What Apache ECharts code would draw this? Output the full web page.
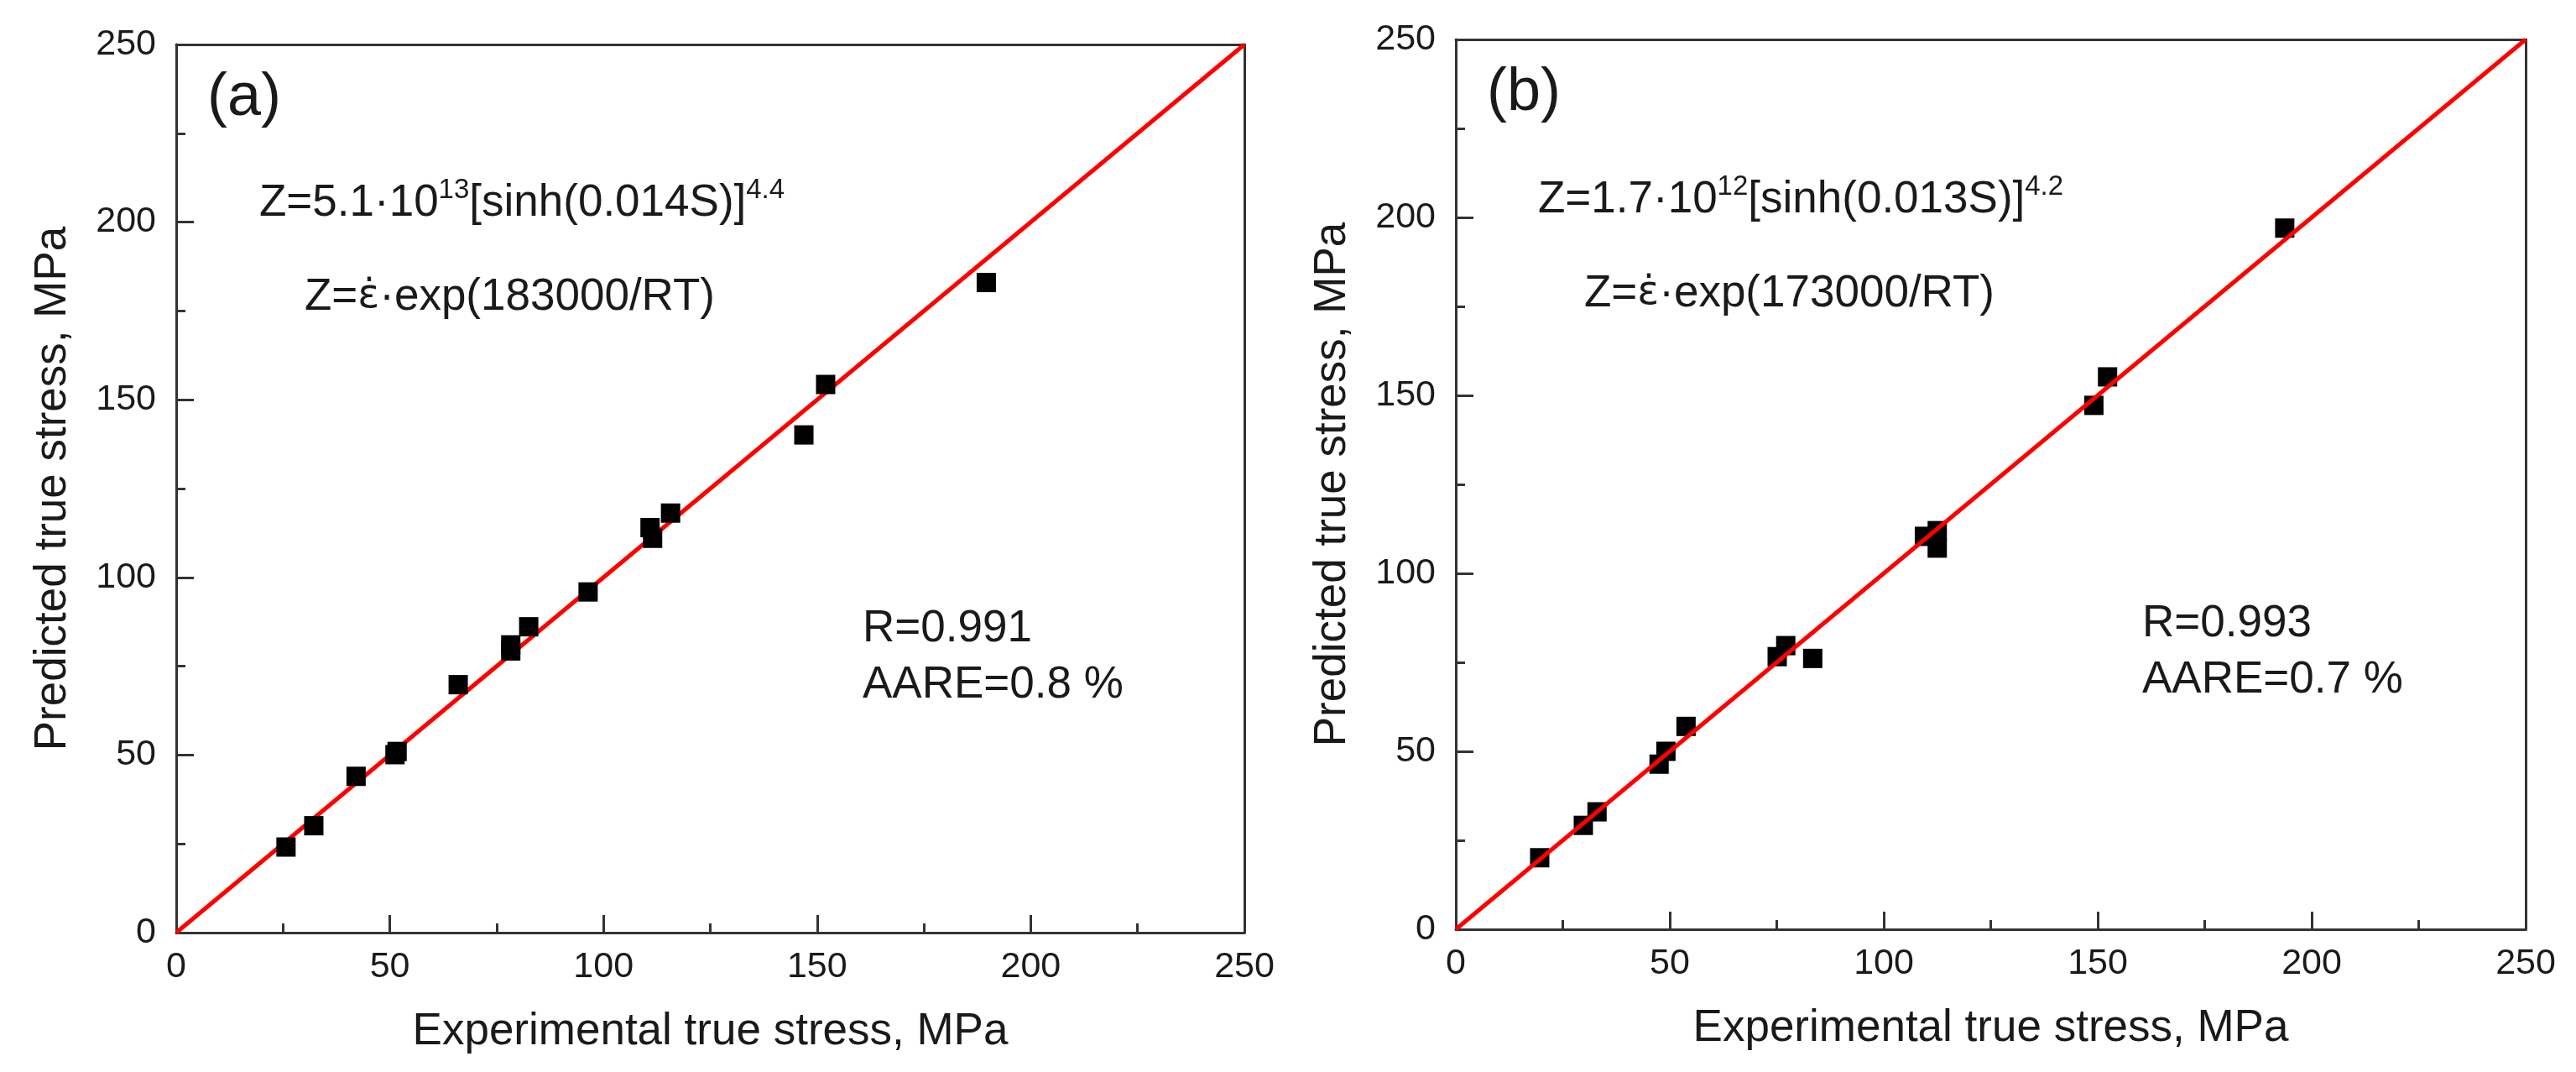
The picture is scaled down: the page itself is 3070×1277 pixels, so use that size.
<!DOCTYPE html>
<html>
<head>
<meta charset="utf-8">
<title>Predicted vs experimental true stress</title>
<script src="https://cdn.jsdelivr.net/npm/echarts@6.0.0/dist/echarts.min.js"></script>
<style>
html, body { margin: 0; padding: 0; background: #fff; }
#main { width: 3070px; height: 1277px; }
</style>
</head>
<body>
<div id="main"></div>
<script>
// panel (a): experimental vs predicted true stress, MPa
var expA  = [25.7, 32.2, 42.1, 51.2, 51.7, 66.0, 78.3, 78.3, 82.5, 96.4, 110.9, 111.5, 115.7, 146.9, 152.0, 189.6];
var predA = [24.1, 30.1, 44.0, 50.1, 51.0, 69.8, 79.3, 81.0, 86.1, 95.9, 114.0, 111.0, 118.1, 140.1, 154.3, 183.0];

// panel (b)
var expB  = [19.6, 29.8, 33.0, 47.5, 49.1, 53.8, 75.1, 77.1, 83.4, 109.5, 112.5, 112.5, 149.1, 152.3, 193.7];
var predB = [20.1, 29.2, 33.0, 46.4, 50.0, 57.0, 76.6, 79.7, 76.1, 110.4, 112.0, 107.1, 147.2, 155.2, 197.0];

// y = x line ends, axis range
var lineEnds = [0, 250];
var axisRange = [0, 250];
var axisStep = 50;

var FONT = '"Liberation Sans", Arial, sans-serif';
var INK = '#1a1a1a';
var AXIS = '#333333';

function pairs(xs, ys) {
    var out = [];
    for (var i = 0; i < xs.length; i++) {
        out.push([xs[i], ys[i]]);
    }
    return out;
}

function makeAxis(grid, isX, title) {
    return {
        type: 'value',
        gridIndex: grid,
        position: isX ? 'bottom' : 'left',
        min: axisRange[0],
        max: axisRange[1],
        interval: axisStep,
        name: title,
        nameLocation: 'middle',
        nameGap: isX ? 92 : 120,
        nameMoveOverlap: false,
        nameTextStyle: { fontSize: 53, fontFamily: FONT, color: INK },
        axisLine: { show: true, onZero: false, lineStyle: { color: AXIS, width: 3 } },
        axisTick: { show: true, inside: true, length: 21, lineStyle: { color: AXIS, width: 3 } },
        minorTick: { show: true, splitNumber: 2, length: 11, lineStyle: { color: AXIS, width: 3 } },
        axisLabel: { fontSize: 43, fontFamily: FONT, color: INK, margin: isX ? 20 : 24 },
        splitLine: { show: false }
    };
}

// top / right frame lines, no ticks
function frameAxis(grid, isX) {
    return {
        type: 'value',
        gridIndex: grid,
        position: isX ? 'top' : 'right',
        min: axisRange[0],
        max: axisRange[1],
        interval: axisStep,
        axisLine: { show: true, onZero: false, lineStyle: { color: AXIS, width: 3 } },
        axisTick: { show: false },
        minorTick: { show: false },
        axisLabel: { show: false },
        splitLine: { show: false }
    };
}

// text blocks drawn inside the plots
var rich = {
    m:   { fontSize: 53, fontFamily: FONT, color: INK, lineHeight: 64 },
    eps: { fontSize: 48, fontFamily: '"DejaVu Sans"', color: INK, lineHeight: 64 },
    sup: { fontSize: 33, fontFamily: FONT, color: INK, lineHeight: 33, verticalAlign: 'top' }
};

function label(x, y, text, size) {
    return {
        type: 'text', x: x, y: y, z: 100,
        style: {
            text: text, fontSize: size || 53, fontFamily: FONT, fill: INK,
            align: 'left', verticalAlign: 'middle'
        }
    };
}

function formula(x, y, text) {
    return {
        type: 'text', x: x, y: y, z: 100,
        style: {
            text: text, rich: rich, fontSize: 53, fontFamily: FONT, fill: INK,
            align: 'left', verticalAlign: 'middle'
        }
    };
}

var chart = echarts.init(document.getElementById('main'), null, { renderer: 'canvas' });

var option = {
    backgroundColor: '#ffffff',
    animation: false,
    grid: [
        { left: 210, top: 53, width: 1273, height: 1058, show: false, outerBoundsMode: 'none', containLabel: false },
        { left: 1735, top: 47, width: 1275, height: 1060, show: false, outerBoundsMode: 'none', containLabel: false }
    ],
    xAxis: [
        makeAxis(0, true, 'Experimental true stress, MPa'),
        makeAxis(1, true, 'Experimental true stress, MPa'),
        frameAxis(0, true),
        frameAxis(1, true)
    ],
    yAxis: [
        makeAxis(0, false, 'Predicted true stress, MPa'),
        makeAxis(1, false, 'Predicted true stress, MPa'),
        frameAxis(0, false),
        frameAxis(1, false)
    ],
    series: [
        {
            type: 'line', xAxisIndex: 0, yAxisIndex: 0, z: 2,
            data: [[lineEnds[0], lineEnds[0]], [lineEnds[1], lineEnds[1]]],
            symbol: 'none', lineStyle: { color: '#ff0000', width: 5 }
        },
        {
            type: 'scatter', xAxisIndex: 0, yAxisIndex: 0, z: 3,
            data: pairs(expA, predA),
            symbol: 'rect', symbolSize: 23, itemStyle: { color: '#000000', opacity: 1 }
        },
        {
            type: 'scatter', xAxisIndex: 1, yAxisIndex: 1, z: 2,
            data: pairs(expB, predB),
            symbol: 'rect', symbolSize: 23, itemStyle: { color: '#000000', opacity: 1 }
        },
        {
            type: 'line', xAxisIndex: 1, yAxisIndex: 1, z: 3,
            data: [[lineEnds[0], lineEnds[0]], [lineEnds[1], lineEnds[1]]],
            symbol: 'none', lineStyle: { color: '#ff0000', width: 5 }
        }
    ],
    graphic: [
        label(247, 117, '(a)', 72),
        formula(309, 242, '{m|Z=5.1\u00b710}{sup|13}{m|[sinh(0.014S)]}{sup|4.4}'),
        formula(363, 354, '{m|Z=}{eps|\u03b5\u0307}{m|\u00b7exp(183000/RT)}'),
        label(1028, 749, 'R=0.991'),
        label(1028, 816, 'AARE=0.8 %'),

        label(1772, 111, '(b)', 72),
        formula(1833, 238, '{m|Z=1.7\u00b710}{sup|12}{m|[sinh(0.013S)]}{sup|4.2}'),
        formula(1888, 350, '{m|Z=}{eps|\u03b5\u0307}{m|\u00b7exp(173000/RT)}'),
        label(2553, 743, 'R=0.993'),
        label(2553, 810, 'AARE=0.7 %')
    ]
};

chart.setOption(option);
</script>
</body>
</html>
